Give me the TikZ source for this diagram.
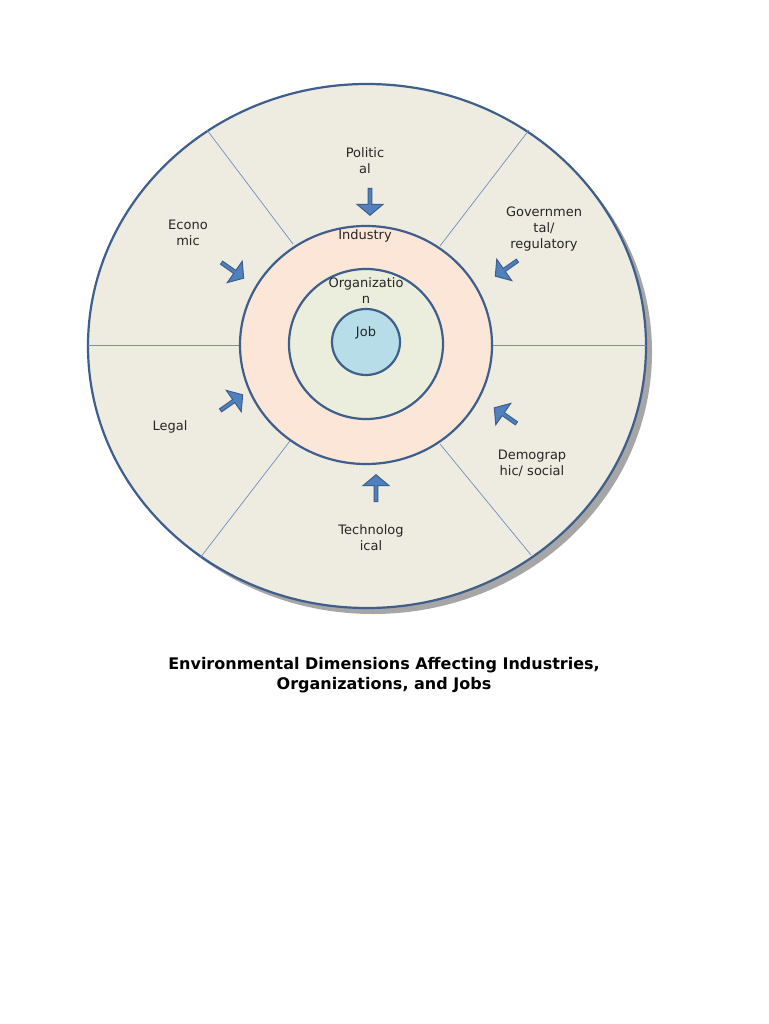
\documentclass[tikz,border=0pt]{standalone}
\usepackage{fontspec}
\setmainfont{DejaVu Sans}
\usetikzlibrary{shapes.arrows}
\definecolor{ringb}{HTML}{3E5E8C}
\definecolor{outerf}{HTML}{EEEBE0}
\definecolor{indf}{HTML}{FCE6D8}
\definecolor{orgf}{HTML}{EBEEDC}
\definecolor{jobf}{HTML}{B7DDE8}
\definecolor{arrf}{HTML}{4F81BD}
\definecolor{divl}{HTML}{6F8FBF}
\tikzset{
  ring/.style={draw=ringb, line width=2.2pt},
  divider/.style={draw=divl, line width=0.7pt},
  barrow/.style={single arrow, draw=ringb, fill=arrf, line width=1pt, minimum width=26pt, single arrow head extend=3pt, minimum height=27pt, inner sep=0pt, single arrow tip angle=100},
  lbl/.style={font=\fontsize{13}{16}\selectfont, align=center, text=black!85}
}
\begin{document}
\begin{tikzpicture}[x=1pt,y=-1pt]
\useasboundingbox[fill=white] (0,0) rectangle (768,1024);
\fill[gray!70] (373,352) ellipse [x radius=279, y radius=262];
\path[ring, fill=outerf] (367,346) ellipse [x radius=279, y radius=262];
\coordinate (c) at (367,346);
\draw[divider] (88,345) -- (240,345);
\draw[divider] (492,345) -- (646,345);
\draw[divider] (207,130) -- (293,244);
\draw[divider] (529,130) -- (440,246);
\draw[divider] (200,558) -- (290,441);
\draw[divider] (531,555) -- (440,444);
\path[ring, fill=indf] (366,345) ellipse [x radius=126, y radius=119];
\path[ring, fill=orgf] (366,344) ellipse [x radius=77, y radius=75];
\path[ring, fill=jobf] (366,342) ellipse [x radius=34, y radius=33];
\node[lbl] (pol) at (365,161) {Politic\\al};
\node[lbl] (eco) at (188,233) {Econo\\mic};
\node[lbl] (gov) at (544,229) {Governmen\\tal/\\regulatory};
\node[lbl] (leg) at (170,427) {Legal};
\node[lbl] (dem) at (532,463) {Demograp\\hic/ social};
\node[lbl] (tec) at (371,538) {Technolog\\ical};
\node[lbl] (ind) at (365,236) {Industry};
\node[lbl] (org) at (366,291) {Organizatio\\n};
\node[lbl] (job) at (366,333) {Job};
\node[barrow, rotate=-90] (a1) at (370,201) {};
\node[barrow, rotate=90] (a2) at (376,489) {};
\node[barrow, rotate=-35] (a3) at (232,270) {};
\node[barrow, rotate=-145] (a4) at (507,268) {};
\node[barrow, rotate=35] (a5) at (231,403) {};
\node[barrow, rotate=145] (a6) at (506,416) {};
\node[font=\bfseries\fontsize{16}{20}\selectfont, align=center] (title) at (384,675) {Environmental Dimensions Affecting Industries,\\Organizations, and Jobs};
\end{tikzpicture}
\end{document}
